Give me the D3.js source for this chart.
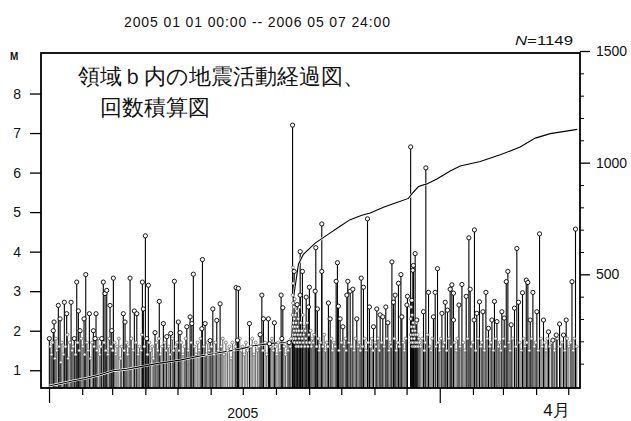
<!DOCTYPE html>
<html><head><meta charset="utf-8">
<script src="https://cdn.jsdelivr.net/npm/d3@7"></script>
<style>body{margin:0;background:#fff}svg{display:block}text{font-family:"Liberation Sans",Arial,sans-serif;fill:#111}</style>
</head><body>
<script>
// ---- data (days counted from 2005-01-01 00:00) ----
const periodLabel = "2005 01 01 00:00 -- 2006 05 07 24:00";
const countLabel = "=1149";
const titleLines = ["領域ｂ内の地震活動経過図、", "回数積算図"];
const magTicks = [1, 2, 3, 4, 5, 6, 7, 8];
const countMajorTicks = [500, 1000, 1500];
const countMinorTicks = [100, 200, 300, 400, 600, 700, 800, 900, 1100, 1200, 1300, 1400];
const xLabelText = ["2005", "4月"];
const xLabelDay = [181, 474];

// larger / readable events: day, magnitude
const mainDays = [0.3,4.0,4.7,8.7,10.3,14.3,16.5,20.6,23.6,25.9,27.4,29,32.7,34.3,37.7,41.4,43,43.9,49.2,50.7,52.3,53.9,57,58.6,60.1,69.4,71,75.7,79.7,82,87.2,88.1,90,91.3,92.8,99,103,106.8,110,113.7,117.1,120.8,122.4,128.7,131.8,133.4,134.8,142.7,143.3,145.8,150.5,153,156.7,159.8,
 174.7,176.9,176,187.2,197.2,198.8,200.3,204.9,205.9,210.5,216.8,218.4,217.5,224.3,227.5,229,231.8,234.6,234.6,236.7,240.2,242.3,243.2,248.6,249.2,250.7,254.8,254.8,261,262.6,268.2,269.4,270.3,271.9,274.5,278.2,279.1,281.3,283.8,287.5,291.6,293.7,297.5,299.3,303.1,306.2,309.3,311.8,314.6,316.5,320.3,321.8,323.3,326.4,328.7,329.6,
 334.3,334.8,337.8,338.9,339.9,340.4,342,343.6,349.8,352,354.5,359.1,360.7,362.9,367,370.1,372.2,374.7,376.3,377.8,377.8,382.9,385.7,389.7,392.2,393.4,397.4,397.1,399.6,402.1,405.3,408.1,410.5,413.7,416.1,418.4,423,425.2,427.1,428.6,431.7,434.8,437,438.6,442.3,445.8,447.3,449.5,452,455.7,458.2,461.9,466.6,470.7,473.8,476.9,480.6,483.1,488.5,491.8];
const mainMags = [1.8,2.0,2.22,2.64,2.3,2.72,2.43,2.72,1.8,3.23,2.5,2.0,2.3,3.42,2.43,2.0,1.8,2.43,1.8,3.23,2.94,3.02,2.64,2.0,3.33,2.43,2.22,3.33,2.5,2.43,3.23,2.55,4.4,1.8,3.15,1.95,2.74,2.18,1.85,1.93,3.25,2.22,1.95,2.1,2.35,2.18,3.43,2.05,3.8,2.18,1.75,2.55,2.26,2.68,
 3.09,3.07,1.76,2.18,1.9,2.9,2.3,2.3,1.67,2.2,2.9,2.58,1.8,1.7,7.2,3.5,2.66,4.0,2.9,3.5,2.85,2.6,3.1,3.0,4.1,2.55,4.7,3.5,2.7,2.3,3.25,3.72,2.62,2.3,2.1,2.9,3.25,3.0,3.05,2.3,3.33,3.1,4.83,2.6,2.1,2.55,2.4,2.35,2.6,2.2,3.74,2.72,2.9,3.2,3.42,2.35,
 2.65,2.87,6.65,2.77,3.53,3.65,3.95,2.27,2.48,6.12,2.97,2.35,2.97,3.57,2.44,2.72,2.52,3.05,3.16,2.95,2.27,2.65,3.17,2.87,4.35,3.05,4.55,2.27,2.44,2.73,2.48,2.97,2.06,2.27,2.74,2.23,2.48,2.32,3.24,3.5,2.15,2.57,4.08,2.72,2.96,3.28,3.22,2.27,2.97,2.48,4.45,2.27,1.97,1.76,1.89,2.17,1.89,2.27,3.24,4.57];

// small events near the detection level: [day, magnitude]
const minorEvents = [[1.5,1.6],[2.3,1.4],[3.1,1.7],[5.6,1.3],[6.4,1.8],[7.2,1.5],[9.5,1.6],[11.1,1.2],[12.0,1.7],[13.3,1.4],[15.4,1.6],[17.2,1.9],[18.0,1.3],[19.5,1.7],[21.7,1.5],[22.5,1.6],[24.8,1.4],[26.6,1.7],[28.2,1.5],[30.1,1.8],
[31.5,1.6],[33.2,1.4],[35.5,1.7],[36.4,1.5],[38.9,1.3],[40.2,1.7],[42.1,1.6],[44.8,1.5],[45.7,1.8],[47.3,1.4],[48.2,1.6],[51.5,1.7],[52.9,1.5],[55.0,1.4],[56.2,1.8],[58.0,1.6],
[59.4,1.5],[61.3,1.7],[62.5,1.4],[63.6,1.6],[65.2,1.8],[66.8,1.3],[67.7,1.6],[70.2,1.5],[72.4,1.7],[73.5,1.4],[74.6,1.6],[77.0,1.8],[78.5,1.5],[81.1,1.7],[83.3,1.4],[84.4,1.6],[85.9,1.5],[86.8,1.9],[89.0,1.6],
[91.9,1.4],[93.7,1.7],[94.8,1.5],[96.3,1.6],[97.5,1.3],[100.2,1.7],[101.4,1.5],[102.5,1.8],[104.3,1.4],[105.6,1.6],[108.1,1.7],[109.2,1.5],[111.8,1.6],[112.9,1.4],[115.3,1.8],[116.2,1.5],[118.4,1.6],[119.6,1.7],
[121.5,1.5],[123.6,1.7],[125.1,1.4],[126.5,1.6],[127.6,1.8],[130.1,1.5],[132.6,1.7],[136.1,1.6],[137.3,1.4],[138.9,1.7],[140.2,1.5],[141.5,1.8],[144.6,1.6],[147.1,1.4],[148.3,1.7],[149.4,1.5],
[151.7,1.6],[154.2,1.4],[155.4,1.7],[158.1,1.5],[160.9,1.6],[162.3,1.8],[163.5,1.4],[165.2,1.7],[166.8,1.5],[168.4,1.6],[170.0,1.3],[171.3,1.7],[172.8,1.5],[174.0,1.6],[178.2,1.8],[179.5,1.5],
[180.8,1.6],[182.4,1.4],[183.9,1.7],[185.5,1.5],[188.6,1.6],[189.8,1.8],[191.5,1.4],[193.0,1.7],[194.6,1.5],[196.1,1.6],[199.7,1.5],[201.8,1.7],[203.3,1.4],[206.9,1.6],[208.2,1.8],[209.4,1.5],[211.5,1.6],
[212.8,1.4],[214.1,1.7],[215.5,1.5],[219.6,1.6],[220.9,1.4],[222.5,1.7],[223.3,1.5],[225.4,1.6],[226.2,1.8],
[227.6,2.9],[227.7,2.4],[227.8,3.6],[227.9,2.1],[228.0,2.7],[228.1,1.9],[228.2,3.2],[228.4,2.2],[228.5,1.8],[228.7,2.6],[228.9,2.0],[229.1,2.3],[229.3,1.7],[229.5,2.8],[229.7,2.1],[229.9,1.9],[230.2,2.4],[230.4,1.8],[230.7,2.2],[230.9,1.6],[231.2,2.0],[231.5,2.5],[231.8,1.7],[232.1,2.1],[232.4,1.9],[232.7,2.3],[233.0,1.6],[233.3,2.0],[233.6,1.8],[233.9,2.6],[234.3,1.7],[234.9,1.9],[235.3,2.2],[235.7,1.6],[236.1,2.0],[236.5,1.8],[237.0,2.4],[237.4,1.7],[237.9,1.9],[238.4,2.1],[238.9,1.6],[239.4,2.0],[239.9,1.8],[240.6,1.7],[241.2,2.2],[241.8,1.6],[242.6,1.9],[243.5,1.7],[244.3,2.0],[245.1,1.6],[245.9,1.8],[246.8,1.7],[247.6,1.9],
[249.9,1.6],[251.6,1.8],[252.4,1.5],[253.5,1.7],[255.9,1.6],[257.0,1.9],[258.2,1.5],[259.5,1.7],[260.3,1.6],[263.8,1.8],[264.9,1.5],[266.1,1.7],[267.2,1.6],[270.9,1.5],[273.2,1.7],[275.6,1.6],[276.8,1.8],[277.4,1.5],[280.1,1.7],[282.4,1.6],[285.0,1.5],[286.2,1.8],[288.8,1.6],[289.9,1.7],[290.7,1.5],[292.8,1.6],[294.9,1.8],[296.1,1.5],[298.2,1.7],[300.5,1.6],[301.6,1.8],[302.4,1.5],[304.6,1.7],[305.3,1.6],[307.4,1.8],[308.5,1.5],[310.6,1.7],[313.0,1.6],[315.5,1.8],[317.6,1.5],[318.8,1.7],[319.5,1.6],[322.6,1.8],[324.4,1.5],[325.7,1.7],[327.3,1.6],[330.8,1.7],[331.9,1.5],[333.2,1.8],
[337.9,2.3],[338.0,1.9],[338.2,2.6],[338.4,1.7],[338.6,2.1],[338.8,1.8],[339.1,2.4],[339.3,1.6],[339.6,2.0],[339.8,1.7],[340.1,2.2],[340.3,1.9],[340.6,1.6],[340.9,2.1],[341.2,1.8],[341.5,1.6],[341.8,2.0],[342.2,1.7],[342.5,1.9],[342.9,1.6],[343.2,2.2],[343.9,1.7],[344.3,1.9],[344.8,1.6],[345.4,1.8],[346.0,1.7],
[347.2,1.6],[348.5,1.8],[350.6,1.5],[351.3,1.7],[353.4,1.9],[355.7,1.6],[356.8,1.5],[357.9,1.8],[361.5,1.6],[363.8,1.7],[364.9,1.5],[366.1,1.8],[368.3,1.6],[369.2,1.7],[371.4,1.5],[373.5,1.8],[375.5,1.6],[379.0,1.7],[380.3,1.5],[381.5,1.8],[384.0,1.6],[386.9,1.7],[388.4,1.5],[391.0,1.8],[394.5,1.6],[395.8,1.7],[398.6,1.5],[400.8,1.8],[403.4,1.6],[404.1,1.7],[406.6,1.5],[409.3,1.8],[411.8,1.6],[412.7,1.7],[415.0,1.5],[417.2,1.8],[419.8,1.6],[420.9,1.7],[422.1,1.5],[424.3,1.8],[426.0,1.6],[429.8,1.7],[430.6,1.5],[433.2,1.8],[436.1,1.6],[439.8,1.7],[441.0,1.5],[443.4,1.8],[444.5,1.6],[446.2,1.7],[448.6,1.5],[450.7,1.8],[453.3,1.6],[454.5,1.7],[456.9,1.5],[459.5,1.8],[460.6,1.6],[463.0,1.7],[464.2,1.5],[465.5,1.8],[467.8,1.6],[469.4,1.7],[472.2,1.5],[474.9,1.8],[477.9,1.6],[479.1,1.7],[481.8,1.5],[484.0,1.8],[485.6,1.6],[487.1,1.7],[489.7,1.5],[490.6,1.8],[493.0,1.6]];

// cumulative number of events
const cumDays = [0,24.3,35.2,47.7,59.8,72.6,88.1,100.6,122.4,141.1,159.8,178.5,190.9,209.6,222.1,226.6,228.5,233,237.6,248.6,261,271.9,281.3,292.2,300,312.4,324.9,335.7,338.9,345.1,352.9,362.3,374.7,384.1,402.8,421.5,440.1,454.2,468.2,493.4];
const cumCounts = [0,25,35,50,68,75,89,100,116,134,150,165,180,192,195,200,400,545,590,640,680,715,745,765,775,800,822,840,860,893,905,927,963,985,1005,1035,1070,1110,1130,1149];

// ---- drawing ----
const W = 631, H = 421;
const frame = {left: 41, right: 580, top: 53, bottom: 388};
const t0 = new Date(2005, 0, 1).getTime();
const dayToDate = d => new Date(t0 + d * 864e5);

const x = d3.scaleTime().domain([new Date(2004, 11, 24, 12), new Date(2006, 4, 12)]).range([frame.left, frame.right]);
const yM = d3.scaleLinear().domain([0.5, 9]).range([390, 54]);
const yC = d3.scaleLinear().domain([0, 1500]).range([386, 51]);

const svg = d3.select("body").append("svg").attr("width", W).attr("height", H);

const events = minorEvents.map(e => ({day: e[0], mag: e[1], minor: true}))
  .concat(mainDays.map((d, i) => ({day: d, mag: mainMags[i], minor: false})));

// stems
svg.append("g").selectAll("line").data(events).join("line")
  .attr("x1", d => x(dayToDate(d.day))).attr("x2", d => x(dayToDate(d.day)))
  .attr("y1", frame.bottom).attr("y2", d => yM(d.mag))
  .attr("stroke", d => d.minor ? "#3a3a3a" : "#000")
  .attr("stroke-width", d => d.minor ? 0.8 : 1.1);

// cumulative curve
const line = d3.line().x(d => x(dayToDate(d))).y((d, i) => yC(cumCounts[i]));
svg.append("path").attr("d", line(cumDays)).attr("fill", "none").attr("stroke", "#fff").attr("stroke-width", 2.4);
svg.append("path").attr("d", line(cumDays)).attr("fill", "none").attr("stroke", "#000").attr("stroke-width", 1.1);

// circles (small ones first, readable ones on top)
svg.append("g").selectAll("circle").data(events).join("circle")
  .attr("cx", d => x(dayToDate(d.day))).attr("cy", d => yM(d.mag))
  .attr("r", d => d.minor ? 1.5 : 2.1).attr("fill", "#fff")
  .attr("stroke", d => d.minor ? "#444" : "#000").attr("stroke-width", d => d.minor ? 0.6 : 0.9);

// frame
svg.append("rect").attr("x", frame.left).attr("y", frame.top)
  .attr("width", frame.right - frame.left).attr("height", frame.bottom - frame.top)
  .attr("fill", "none").attr("stroke", "#000").attr("stroke-width", 1.8);

// left axis (M)
const axL = svg.append("g").attr("transform", `translate(${frame.left},0)`)
  .call(d3.axisLeft(yM).tickValues(magTicks).tickSizeInner(11).tickSizeOuter(0).tickPadding(9).tickFormat(d3.format("d")));
axL.select(".domain").remove();
axL.selectAll("text").attr("font-size", 14).attr("font-family", "Liberation Sans, Arial, sans-serif").attr("fill", "#111");
axL.selectAll("line").attr("stroke-width", 1.3);
svg.append("text").attr("x", 10).attr("y", 60).attr("font-size", 10).attr("font-weight", "bold").text("M");

// right axis (count)
const axR = svg.append("g").attr("transform", `translate(${frame.right},0)`)
  .call(d3.axisRight(yC).tickValues(countMajorTicks).tickSizeInner(10).tickSizeOuter(0).tickPadding(6).tickFormat(d3.format("d")));
axR.select(".domain").remove();
axR.selectAll("text").attr("font-size", 14).attr("font-family", "Liberation Sans, Arial, sans-serif").attr("fill", "#111");
axR.selectAll("line").attr("stroke-width", 1.3);
const axR2 = svg.append("g").attr("transform", `translate(${frame.right},0)`)
  .call(d3.axisRight(yC).tickValues(countMinorTicks).tickSizeInner(4).tickSizeOuter(0).tickFormat(""));
axR2.select(".domain").remove();

// bottom axis: month ticks, long ticks at January
const months = d3.timeMonth.range(new Date(2005, 0, 1), new Date(2006, 4, 2));
const axB = svg.append("g").attr("transform", `translate(0,${frame.bottom})`)
  .call(d3.axisBottom(x).tickValues(months.filter(m => m.getMonth() !== 0)).tickSizeInner(7).tickSizeOuter(0).tickFormat(""));
axB.select(".domain").remove();
axB.selectAll("line").attr("stroke-width", 1.2);
const axB2 = svg.append("g").attr("transform", `translate(0,${frame.bottom})`)
  .call(d3.axisBottom(x).tickValues(months.filter(m => m.getMonth() === 0)).tickSizeInner(15).tickSizeOuter(0).tickFormat(""));
axB2.select(".domain").remove();
axB2.selectAll("line").attr("stroke-width", 1.2);

svg.selectAll("text.xlab").data(xLabelText).join("text").attr("class", "xlab")
  .attr("x", (d, i) => x(dayToDate(xLabelDay[i]))).attr("y", (d, i) => i === 0 ? 418 : 416)
  .attr("text-anchor", "middle").attr("font-size", (d, i) => i === 0 ? 14 : 17)
  .attr("font-family", (d, i) => i === 0 ? "Liberation Sans, Arial, sans-serif" : "Noto Sans CJK JP, sans-serif")
  .text(d => d);

// header texts
svg.append("text").attr("x", 124).attr("y", 27).attr("font-size", 14)
  .attr("textLength", 266).attr("lengthAdjust", "spacing").text(periodLabel);
const nText = svg.append("text").attr("x", 515).attr("y", 45).attr("font-size", 12)
  .attr("textLength", 58).attr("lengthAdjust", "spacingAndGlyphs");
nText.append("tspan").attr("font-style", "italic").text("N");
nText.append("tspan").text(countLabel);

svg.selectAll("text.ttl").data(titleLines).join("text").attr("class", "ttl")
  .attr("x", (d, i) => i === 0 ? 78 : 100).attr("y", (d, i) => i === 0 ? 84 : 115)
  .attr("font-family", "Noto Sans CJK JP, sans-serif").attr("font-size", 21.5).attr("font-weight", 300)
  .text(d => d);
</script>
</body></html>
